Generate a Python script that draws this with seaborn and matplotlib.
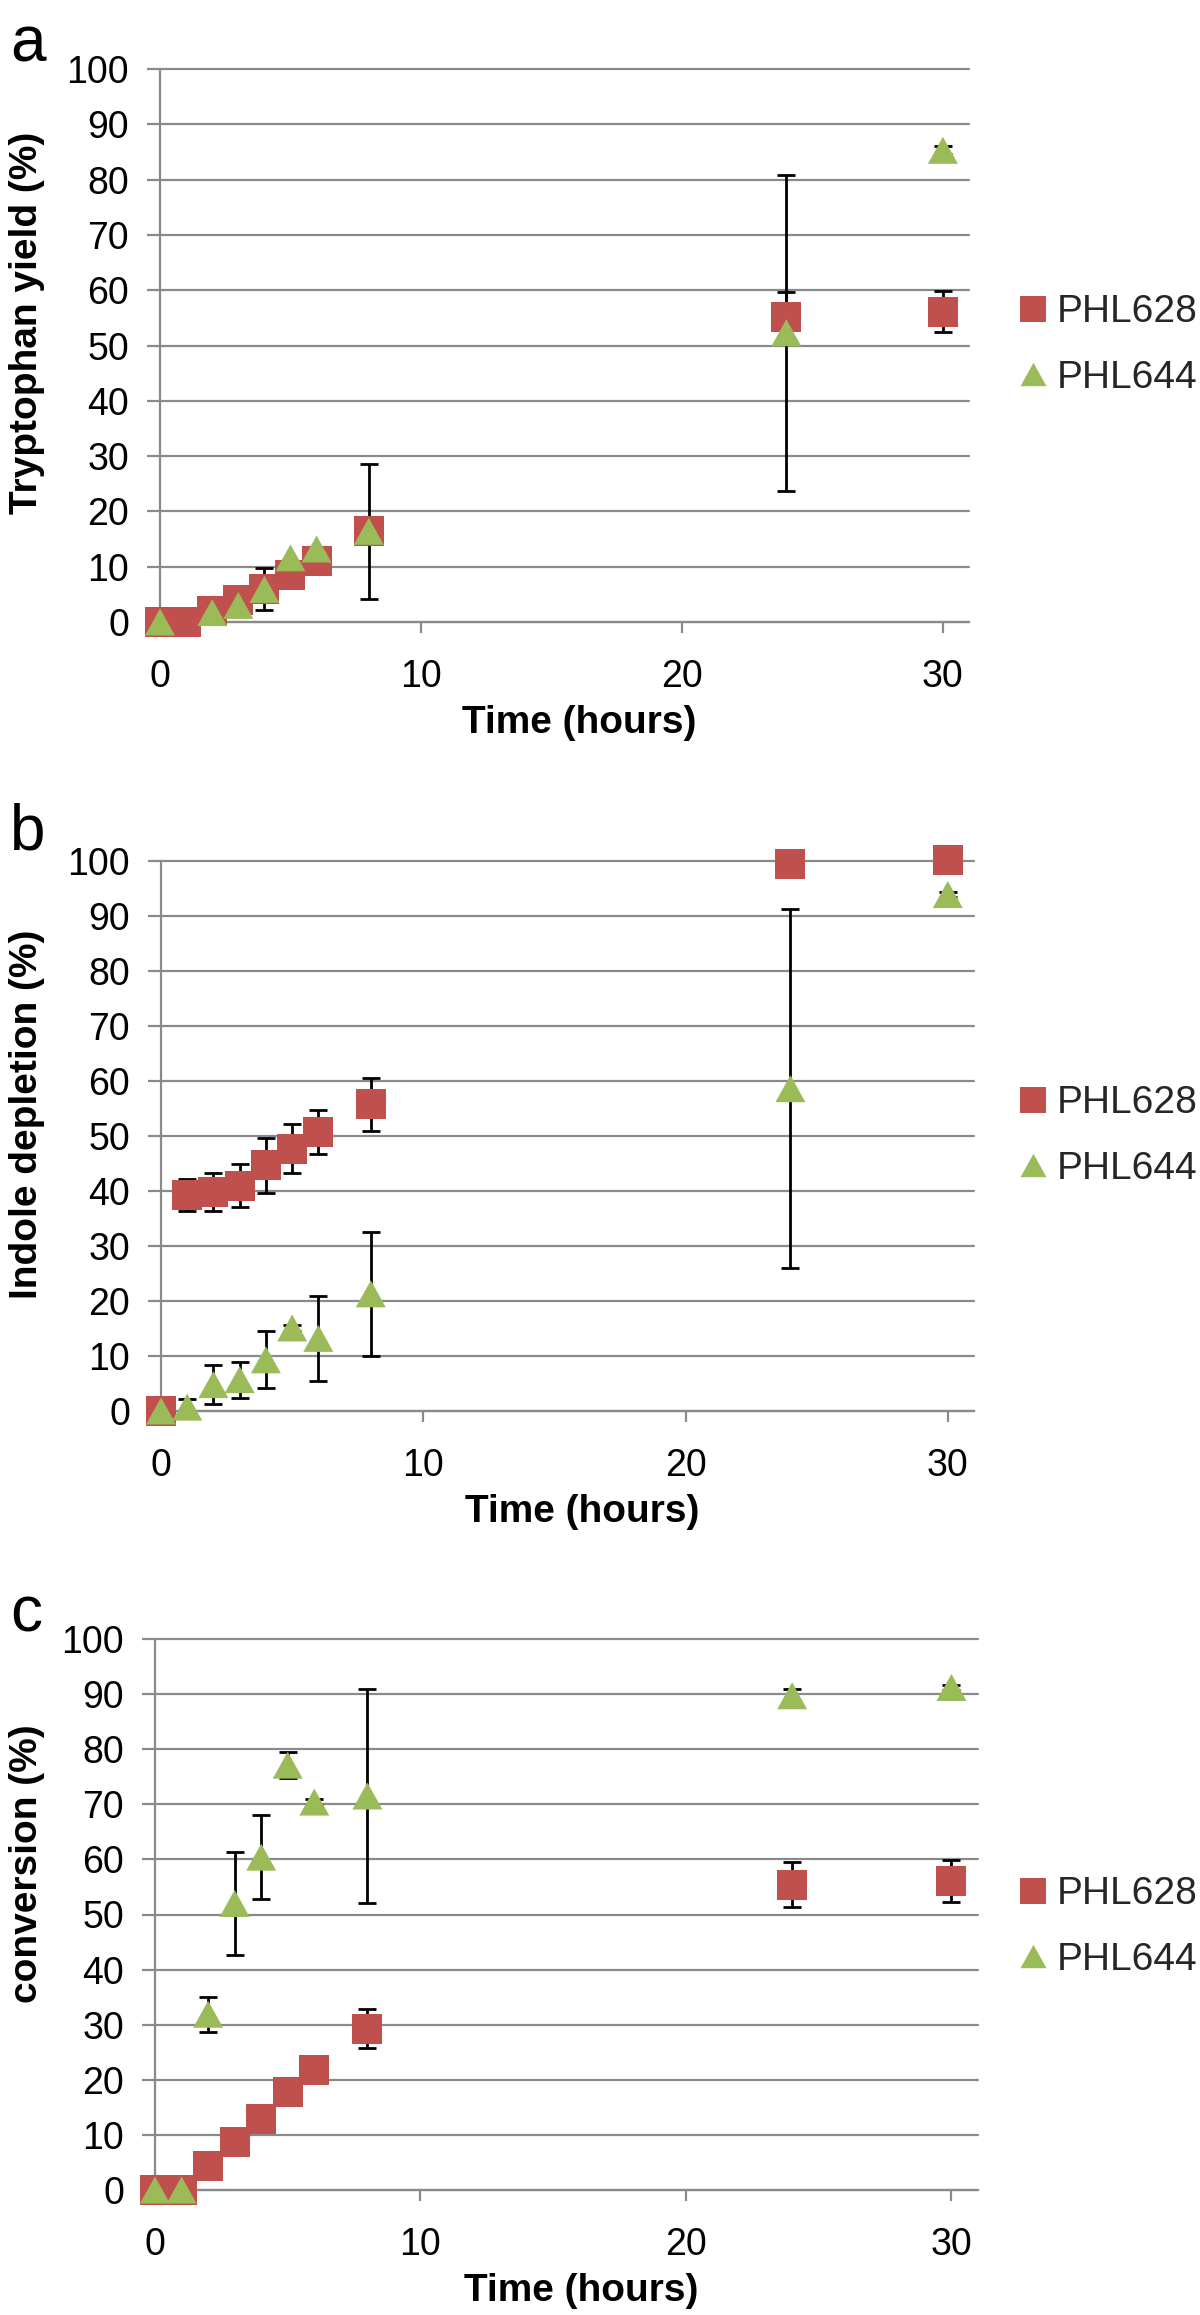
import numpy as np
import pandas as pd
import matplotlib
matplotlib.use("Agg")
import matplotlib.pyplot as plt
from matplotlib.path import Path
from matplotlib.lines import Line2D
import seaborn as sns

# ---------------- data ----------------
strains = ["PHL628", "PHL644"]
colors = ["#C0504D", "#9BBB59"]

# Panel a: Tryptophan yield (%)
a_time_628 = [0, 1, 2, 3, 4, 5, 6, 8, 24, 30]
a_val_628 = [0, 0, 2.0, 4.0, 6.0, 8.5, 11.1, 16.4, 55.1, 56.1]
a_err_628 = [0, 0, 0, 0, 0, 0, 0, 0, 4.5, 3.7]
a_time_644 = [0, 2, 3, 4, 5, 6, 8, 24, 30]
a_val_644 = [0, 1.7, 3.0, 5.9, 11.6, 13.2, 16.4, 52.3, 85.3]
a_err_644 = [0, 0, 0, 3.8, 0, 0, 12.2, 28.6, 0.7]

# Panel b: Indole depletion (%)
b_time_628 = [0, 1, 2, 3, 4, 5, 6, 8, 24, 30]
b_val_628 = [0, 39.3, 39.8, 41.0, 44.7, 47.7, 50.7, 55.8, 99.4, 100.1]
b_err_628 = [0, 2.9, 3.5, 3.9, 5.0, 4.4, 4.0, 4.8, 0, 0]
b_time_644 = [0, 1, 2, 3, 4, 5, 6, 8, 24, 30]
b_val_644 = [0, 0.7, 4.8, 5.7, 9.3, 15.1, 13.2, 21.3, 58.6, 93.9]
b_err_644 = [0, 1.5, 3.6, 3.3, 5.2, 0.5, 7.8, 11.3, 32.6, 0.5]

# Panel c: conversion (%)
c_time_628 = [0, 1, 2, 3, 4, 5, 6, 8, 24, 30]
c_val_628 = [0, 0, 4.3, 8.8, 12.9, 17.7, 21.7, 29.3, 55.4, 56.1]
c_err_628 = [0, 0, 0, 0, 0, 0, 0, 3.6, 4.1, 3.8]
c_time_644 = [0, 1, 2, 3, 4, 5, 6, 8, 24, 30]
c_val_644 = [0, 0, 31.9, 52.0, 60.4, 77.1, 70.4, 71.5, 89.7, 91.2]
c_err_644 = [0, 0, 3.2, 9.3, 7.6, 2.4, 0.5, 19.5, 1.2, 0.4]

x_ticks = [0, 10, 20, 30]
y_ticks = list(range(0, 101, 10))
x_label = "Time (hours)"
panel_letters = ["a", "b", "c"]
y_labels = ["Tryptophan yield (%)", "Indole depletion (%)", "conversion (%)"]

# ---------------- style ----------------
sns.set_theme(style="white")
plt.rcParams["font.family"] = ["Liberation Sans", "DejaVu Sans"]

W, H = 1200, 2315
fig = plt.figure(figsize=(W / 100, H / 100), dpi=100)
GREY = "#8a8a8a"
PT = 72 / 100.0  # points per pixel

tri_path = Path([(-1, -0.9), (1, -0.9), (0, 0.9), (-1, -0.9)],
                [Path.MOVETO, Path.LINETO, Path.LINETO, Path.CLOSEPOLY])
marker_map = {"PHL628": "s", "PHL644": tri_path}
palette = dict(zip(strains, colors))

# layout in pixels: left, top, right, bottom of the plot area
layout = [
    dict(box=(160, 69, 969, 622), ylab_y=0.541, leg_y=345, letter_base=61),
    dict(box=(161, 861, 974, 1411), ylab_y=0.539, leg_y=1136, letter_base=849),
    dict(box=(155, 1639, 978, 2190), ylab_y=0.592, leg_y=1927, letter_base=1631),
]

datasets = [
    ((a_time_628, a_val_628, a_err_628), (a_time_644, a_val_644, a_err_644)),
    ((b_time_628, b_val_628, b_err_628), (b_time_644, b_val_644, b_err_644)),
    ((c_time_628, c_val_628, c_err_628), (c_time_644, c_val_644, c_err_644)),
]

for i, (lay, ds) in enumerate(zip(layout, datasets)):
    l, t, r, b = lay["box"]
    ax = fig.add_axes([l / W, 1 - b / H, (r - l) / W, (b - t) / H])

    frames = []
    for name, (tt, vv, ee) in zip(strains, ds):
        frames.append(pd.DataFrame({"time": tt, "value": vv, "err": ee, "strain": name}))
    df = pd.concat(frames, ignore_index=True)

    # error bars beneath markers
    for name in strains:
        sub = df[(df["strain"] == name) & (df["err"] > 0)]
        eb = ax.errorbar(sub["time"], sub["value"], yerr=sub["err"], fmt="none",
                         ecolor="black", elinewidth=2.0, capsize=6.5, capthick=2.0,
                         zorder=2)
        for art in eb.lines[1] + eb.lines[2]:
            art.set_clip_on(False)

    sns.scatterplot(data=df, x="time", y="value", hue="strain", style="strain",
                    palette=palette, markers=marker_map, s=(30 * PT) ** 2,
                    linewidth=0, ax=ax, legend=False, zorder=3, clip_on=False)

    ax.set_xlim(0, 31)
    ax.set_ylim(0, 100)
    ax.set_xticks(x_ticks)
    ax.set_yticks(y_ticks)
    ax.set_xticklabels([str(v) for v in x_ticks])
    ax.set_yticklabels([str(v) for v in y_ticks])

    ax.set_axisbelow(True)
    ax.yaxis.grid(True, color=GREY, linewidth=1.6)
    ax.xaxis.grid(False)
    for gl in ax.get_ygridlines():
        gl.set_clip_on(False)
    for side in ["top", "right"]:
        ax.spines[side].set_visible(False)
    for side in ["left", "bottom"]:
        ax.spines[side].set_color(GREY)
        ax.spines[side].set_linewidth(1.6)

    ax.tick_params(axis="y", which="major", direction="out", length=13 * PT,
                   width=1.6, color=GREY, labelsize=27, pad=13, labelcolor="black",
                   left=True)
    ax.tick_params(axis="x", which="major", direction="out", length=11 * PT,
                   width=1.6, color=GREY, labelsize=27, pad=19, labelcolor="black",
                   bottom=True)

    ax.set_ylabel(y_labels[i], fontsize=28, fontweight="bold", color="black")
    ax.yaxis.label.set_va("center")
    ax.yaxis.set_label_coords((27 - l) / (r - l), lay["ylab_y"])

    ax.set_xlabel(x_label, fontsize=28, fontweight="bold", color="black")
    ax.xaxis.label.set_va("baseline")
    ax.xaxis.set_label_coords(0.518, -111 / (b - t))

    fig.text(10 / W, 1 - lay["letter_base"] / H, panel_letters[i], fontsize=46,
             va="baseline", ha="left", color="black")

    handles = [
        Line2D([0], [0], marker=marker_map[n], color=palette[n], linestyle="none",
               markersize=26 * PT, markeredgewidth=0)
        for n in strains
    ]
    ax.legend(handles, strains, loc="center left",
              bbox_to_anchor=(1020 / W, 1 - lay["leg_y"] / H),
              bbox_transform=fig.transFigure, frameon=False, fontsize=28,
              handlelength=0.67, handletextpad=0.28, labelspacing=0.75,
              borderpad=0, borderaxespad=0)

fig.savefig("out.png", dpi=100)
